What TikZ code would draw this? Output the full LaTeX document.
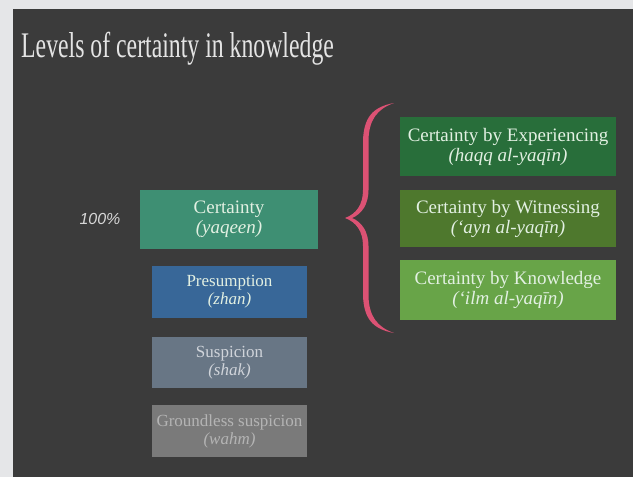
\documentclass[tikz,border=0pt]{standalone}
\usepackage{fontspec}
\setmainfont{Liberation Serif}
\newfontfamily\titlefont[FakeStretch=0.66]{Liberation Serif}
\newfontfamily\pctfont{Liberation Sans}
\definecolor{margincol}{RGB}{229,230,232}
\definecolor{bgcol}{RGB}{59,59,59}
\definecolor{certcol}{RGB}{62,143,115}
\definecolor{prescol}{RGB}{56,103,152}
\definecolor{suspcol}{RGB}{104,118,133}
\definecolor{groundcol}{RGB}{122,122,122}
\definecolor{expcol}{RGB}{40,110,58}
\definecolor{witcol}{RGB}{78,120,45}
\definecolor{knowcol}{RGB}{104,164,72}
\definecolor{bracecol}{RGB}{220,82,116}
\definecolor{lighttext}{RGB}{226,240,226}
\definecolor{susptext}{RGB}{208,212,218}
\definecolor{groundtext}{RGB}{180,180,180}
\definecolor{pcttext}{RGB}{215,215,215}
\definecolor{titletext}{RGB}{228,228,228}
\begin{document}
\begin{tikzpicture}[x=1pt,y=-1pt,
  lvl/.style={inner sep=0pt, align=center, text=lighttext,
    font=\rmfamily\fontsize{17}{19}\selectfont},
  bigbox/.style={inner sep=0pt, align=center, text=lighttext,
    font=\rmfamily\fontsize{19}{21}\selectfont}]
\useasboundingbox (0,0) rectangle (633,477);
\fill[margincol] (0,0) rectangle (633,477);
\fill[bgcol] (13,9) rectangle (633,477);
\node[anchor=base west, text=titletext, inner sep=0pt,
  font=\titlefont\fontsize{36}{38}\selectfont] (title) at (21,57)
  {Levels of certainty in knowledge};
% left levels
\node[bigbox, fill=certcol, minimum width=178pt, minimum height=59pt] (cert) at (229,219.5)
  {Certainty\\[-1pt]\textit{(yaqeen)}};
\node[lvl, fill=prescol, minimum width=155pt, minimum height=52pt] (pres) at (229.5,292)
  {Presumption\\[-1pt]\textit{(zhan)}};
\node[lvl, fill=suspcol, text=susptext, minimum width=155pt, minimum height=51pt] (susp) at (229.5,362.5)
  {Suspicion\\[-1pt]\textit{(shak)}};
\node[lvl, fill=groundcol, text=groundtext, minimum width=155pt, minimum height=52pt] (ground) at (229.5,431)
  {Groundless suspicion\\[-1pt]\textit{(wahm)}};
\node[text=pcttext, inner sep=0pt,
  font=\pctfont\itshape\fontsize{16}{18}\selectfont] (pct) at (100,219) {100\%};
% right levels
\node[bigbox, fill=expcol, minimum width=216pt, minimum height=59pt] (exp) at (508,146.5)
  {Certainty by Experiencing\\[-1pt]\textit{(haqq al-yaqīn)}};
\node[bigbox, fill=witcol, minimum width=216pt, minimum height=57pt] (wit) at (508,218.5)
  {Certainty by Witnessing\\[-1pt]\textit{(‘ayn al-yaqīn)}};
\node[bigbox, fill=knowcol, minimum width=216pt, minimum height=60pt] (know) at (508,290)
  {Certainty by Knowledge\\[-1pt]\textit{(‘ilm al-yaqīn)}};
% brace
\fill[bracecol] (394,103) .. controls (372,107) and (364,118) .. (363,140)
  -- (363,190) .. controls (363,205) and (356,214) .. (345,218)
  .. controls (356,222) and (363,231) .. (363,246)
  -- (363,296) .. controls (364,318) and (372,329) .. (394,333)
  .. controls (377,327) and (369,316) .. (368.5,296)
  -- (368.5,246) .. controls (368.5,232) and (362,222) .. (352,218)
  .. controls (362,214) and (368.5,204) .. (368.5,190)
  -- (368.5,140) .. controls (369,120) and (377,109) .. (394,103) -- cycle;
\end{tikzpicture}
\end{document}
